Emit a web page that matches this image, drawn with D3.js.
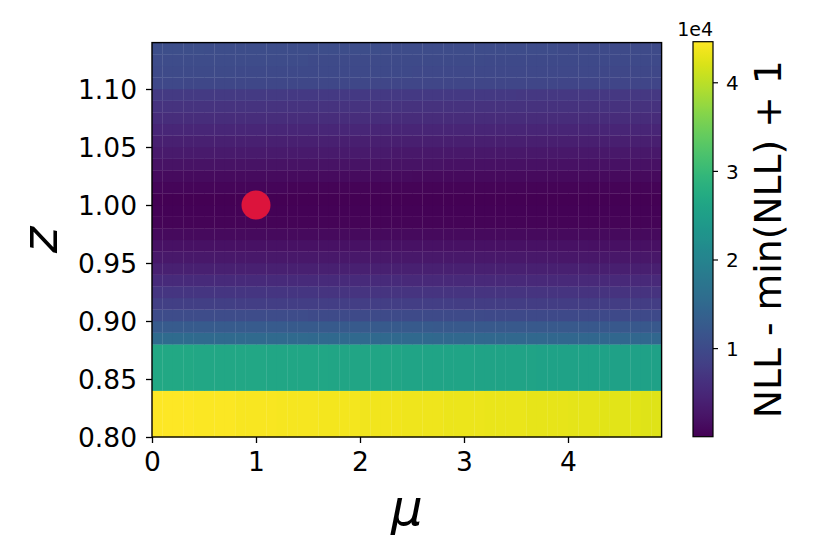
<!DOCTYPE html>
<html>
<head>
<meta charset="utf-8">
<script src="https://cdn.jsdelivr.net/npm/d3@7"></script>
<style>
  html, body { margin: 0; padding: 0; background: #ffffff; }
  svg { display: block; }
  text { font-family: "DejaVu Sans", sans-serif; fill: #000; }
</style>
</head>
<body>
<svg id="chart" width="830" height="554"></svg>
<script>
// ---- data ----
// column edges along mu
const muEdges = [0.0,0.1,0.2,0.3,0.4,0.5,0.6,0.7,0.8,0.9,1.0,1.1,1.2,1.3,1.4,1.5,1.6,1.7,1.8,1.9,
  2.0,2.1,2.2,2.3,2.4,2.5,2.6,2.7,2.8,2.9,3.0,3.1,3.2,3.3,3.4,3.5,3.6,3.7,3.8,3.9,
  4.0,4.1,4.2,4.3,4.4,4.5,4.6,4.7,4.8,4.9];
// row edges along z
const zEdges = [0.80,0.84,0.88,0.89,0.90,0.91,0.92,0.93,0.94,0.95,0.96,0.97,0.98,0.99,1.00,
  1.01,1.02,1.03,1.04,1.05,1.06,1.07,1.08,1.09,1.10,1.11,1.12,1.13,1.14];
// NLL - min(NLL) + 1 for each z row at mu = 0 (bottom to top)
const rowNLL = [44580, 26750, 15380, 12700, 10250, 8250, 6900, 5350, 4000, 2900, 2000, 1100, 450, 220,
  90, 530, 1250, 2150, 3030, 3900, 4800, 5700, 6600, 7580, 9600, 10000, 10250, 10500];
// relative change of the NLL along mu (per column)
const muFactor = [1.000,0.999,0.998,0.997,0.996,0.995,0.994,0.993,0.992,0.991,
  0.990,0.989,0.988,0.987,0.986,0.985,0.984,0.983,0.982,0.981,
  0.980,0.979,0.978,0.977,0.976,0.975,0.974,0.973,0.972,0.971,
  0.970,0.969,0.968,0.967,0.966,0.965,0.964,0.963,0.962,0.961,
  0.960,0.959,0.958,0.957,0.956,0.955,0.954,0.953,0.952];
// best-fit point
const bestFit = [{mu: 1.0, z: 1.0}];
// ticks
const xTicks = [0, 1, 2, 3, 4];
const yTicks = [0.80, 0.85, 0.90, 0.95, 1.00, 1.05, 1.10];
const cbarTicks = [10000, 20000, 30000, 40000];
const cbarTickLabels = ["1", "2", "3", "4"];
const cbarOffsetText = "1e4";
const cbarMin = 1, cbarMax = 44580;
const xLabel = "μ", yLabel = "z", cbarLabel = "NLL - min(NLL) + 1";

// ---- layout ----
const svg = d3.select("#chart");
const plot = {left: 152, right: 661.6, top: 42.6, bottom: 437};
const cbar = {left: 693, right: 713, top: 41.7, bottom: 436.7};

const x = d3.scaleLinear().domain([0, 4.9]).range([plot.left, plot.right]);
const y = d3.scaleLinear().domain([0.80, 1.14]).range([plot.bottom, plot.top]);
const color = d3.scaleSequential(d3.interpolateViridis).domain([cbarMin, cbarMax]);

// ---- heatmap cells ----
const cells = [];
rowNLL.forEach((rv, i) => {
  muFactor.forEach((f, j) => {
    cells.push({x0: muEdges[j], x1: muEdges[j + 1], y0: zEdges[i], y1: zEdges[i + 1], v: rv * f,
                last: j === muFactor.length - 1, top: i === rowNLL.length - 1});
  });
});
svg.append("g").selectAll("rect").data(cells).join("rect")
  .attr("x", d => x(d.x0))
  .attr("y", d => y(d.y1))
  .attr("width", d => x(d.x1) - x(d.x0) + (d.last ? 0 : 0.3))
  .attr("height", d => y(d.y0) - y(d.y1) + 0.3)
  .attr("fill", d => color(d.v));

// best-fit marker
svg.append("g").selectAll("circle").data(bestFit).join("circle")
  .attr("cx", d => x(d.mu)).attr("cy", d => y(d.z)).attr("r", 14.5)
  .attr("fill", "crimson");

// frame
svg.append("rect")
  .attr("x", plot.left).attr("y", plot.top)
  .attr("width", plot.right - plot.left).attr("height", plot.bottom - plot.top)
  .attr("fill", "none").attr("stroke", "#000").attr("stroke-width", 1.4);

// ---- axes ----
const tickFont = 26.5;
const xAxis = d3.axisBottom(x).tickValues(xTicks).tickFormat(d3.format("d")).tickSize(6).tickPadding(8);
const gx = svg.append("g").attr("transform", `translate(0,${plot.bottom})`).call(xAxis);
gx.select(".domain").remove();
gx.selectAll(".tick line").attr("stroke", "#000").attr("stroke-width", 1.3);
gx.selectAll(".tick text").attr("font-size", tickFont).attr("font-family", "DejaVu Sans").attr("fill", "#000")
  .attr("dy", "0.76em");

const yAxis = d3.axisLeft(y).tickValues(yTicks).tickFormat(d3.format(".2f")).tickSize(6).tickPadding(9);
const gy = svg.append("g").attr("transform", `translate(${plot.left},0)`).call(yAxis);
gy.select(".domain").remove();
gy.selectAll(".tick line").attr("stroke", "#000").attr("stroke-width", 1.3);
gy.selectAll(".tick text").attr("font-size", tickFont).attr("font-family", "DejaVu Sans").attr("fill", "#000")
  .attr("dy", "0.36em");

// axis labels
svg.append("text")
  .attr("x", (plot.left + plot.right) / 2).attr("y", 525)
  .attr("text-anchor", "middle")
  .attr("font-size", 50).attr("font-style", "italic")
  .text(xLabel);
svg.append("text")
  .attr("transform", `translate(57,${(plot.top + plot.bottom) / 2}) rotate(-90)`)
  .attr("text-anchor", "middle")
  .attr("font-size", 50).attr("font-style", "italic")
  .text(yLabel);

// ---- colorbar ----
const cy = d3.scaleLinear().domain([cbarMin, cbarMax]).range([cbar.bottom, cbar.top]);
const defs = svg.append("defs");
const grad = defs.append("linearGradient").attr("id", "viridisGrad")
  .attr("x1", 0).attr("y1", 1).attr("x2", 0).attr("y2", 0);
const stops = d3.range(0, 1.0001, 0.02);
grad.selectAll("stop").data(stops).join("stop")
  .attr("offset", d => d)
  .attr("stop-color", d => d3.interpolateViridis(d));
svg.append("rect")
  .attr("x", cbar.left).attr("y", cbar.top)
  .attr("width", cbar.right - cbar.left).attr("height", cbar.bottom - cbar.top)
  .attr("fill", "url(#viridisGrad)")
  .attr("stroke", "#000").attr("stroke-width", 1.2);

const cAxis = d3.axisRight(cy).tickValues(cbarTicks)
  .tickFormat((d, i) => cbarTickLabels[i]).tickSize(5).tickPadding(8);
const gc = svg.append("g").attr("transform", `translate(${cbar.right},0)`).call(cAxis);
gc.select(".domain").remove();
gc.selectAll(".tick line").attr("stroke", "#000").attr("stroke-width", 1.2);
gc.selectAll(".tick text").attr("font-size", 20).attr("font-family", "DejaVu Sans").attr("fill", "#000")
  .attr("x", 13).attr("text-anchor", "start").attr("dy", "0.36em");

svg.append("text")
  .attr("x", cbar.right).attr("y", 36)
  .attr("text-anchor", "end")
  .attr("font-size", 19)
  .text(cbarOffsetText);

svg.append("text")
  .attr("transform", `translate(781,${(cbar.top + cbar.bottom) / 2}) rotate(-90)`)
  .attr("text-anchor", "middle")
  .attr("font-size", 37.7)
  .text(cbarLabel);
</script>
</body>
</html>
